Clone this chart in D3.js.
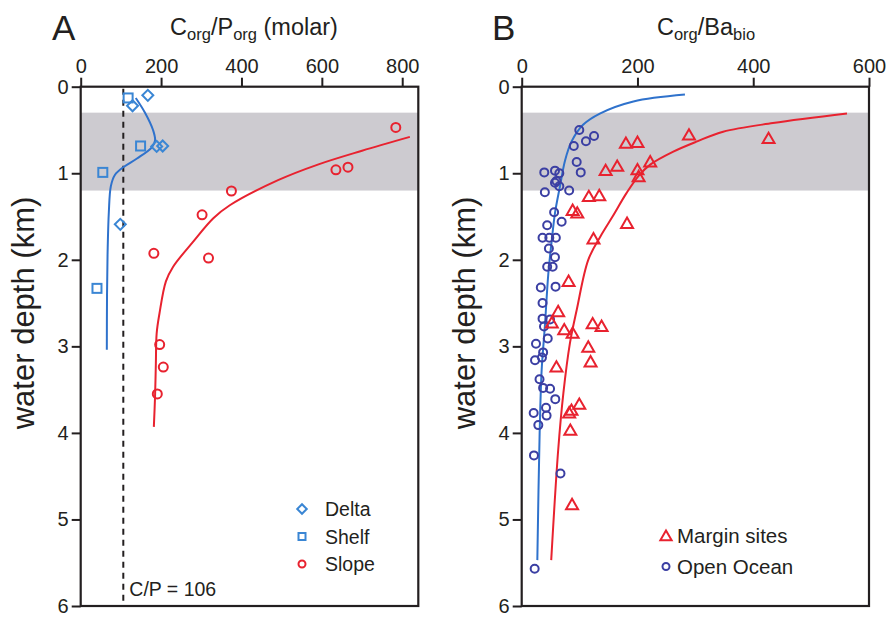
<!DOCTYPE html>
<html>
<head>
<meta charset="utf-8">
<script src="https://cdn.jsdelivr.net/npm/d3@7"></script>
<style>
  html, body { margin: 0; padding: 0; background: #fff; }
  svg text { font-family: "Liberation Sans", Arial, Helvetica, sans-serif; fill: #231f20; }
</style>
</head>
<body>
<svg id="chart" width="887" height="617"></svg>
<script>
// ---------- Panel A: C_org/P_org vs water depth ----------
const deltaPts = [[167, 0.10], [129, 0.22], [189, 0.69], [204, 0.685], [98.5, 1.59]];
const shelfPts = [[118, 0.13], [149, 0.685], [55, 0.99], [40.5, 2.33]];
const slopePts = [[784, 0.47], [665, 0.93], [635, 0.96], [375, 1.205], [302, 1.48],
                  [182, 1.925], [318, 1.98], [196.5, 2.98], [205.5, 3.24], [190.6, 3.55]];
const shelfFit = [[137, 0.13], [160, 0.30], [180, 0.50], [185, 0.62], [177, 0.70],
                  [140, 0.83], [106, 0.93], [85, 1.02], [75, 1.15], [70, 1.45],
                  [67, 1.9], [65.5, 2.4], [65, 3.04]];
const slopeFit = [[819, 0.58], [700, 0.74], [590, 0.90], [491, 1.08], [371, 1.37],
                  [330, 1.52], [280, 1.79], [230, 2.08], [212, 2.25], [196, 2.62],
                  [189, 2.85], [187, 3.2], [185, 3.58], [182, 3.93]];
const redfieldCP = 106;
const ticksA = [0, 200, 400, 600, 800];

// ---------- Panel B: C_org/Ba_bio vs water depth ----------
const marginPts = [[289, 0.56], [426.5, 0.60], [180, 0.655], [200, 0.645], [222, 0.87],
                   [165, 0.92], [145, 0.97], [200, 0.96], [202, 1.04], [116, 1.27],
                   [134, 1.26], [88, 1.43], [96, 1.46], [182, 1.58], [124, 1.76],
                   [81, 2.25], [63, 2.6], [52, 2.73], [73.5, 2.81], [88, 2.85],
                   [122.6, 2.74], [138, 2.77], [115, 3.01], [119, 3.18], [60, 3.24],
                   [99.5, 3.67], [86, 3.74], [82, 3.77], [84, 3.97], [87, 4.83]];
const oceanPts = [[99.5, 0.50], [125, 0.57], [111, 0.63], [90, 0.685], [95, 0.87],
                  [102, 0.99], [39, 0.99], [57.5, 0.97], [65, 1.0], [60, 1.09],
                  [57.5, 1.11], [65, 1.15], [40, 1.22], [82, 1.2], [56, 1.45],
                  [69, 1.56], [44, 1.6], [36, 1.745], [47.7, 1.745], [59, 1.745],
                  [47, 1.87], [57.5, 1.97], [44, 2.08], [53.5, 2.08], [33, 2.32],
                  [58.5, 2.31], [36, 2.50], [36, 2.68], [49, 2.69], [38.5, 2.77],
                  [45, 2.91], [24.7, 2.97], [37, 3.07], [23, 3.16], [35, 3.13],
                  [30.8, 3.38], [37, 3.48], [49, 3.49], [58, 3.61], [42, 3.71],
                  [43, 3.80], [20.7, 3.77], [28.7, 3.91], [21.2, 4.26], [67, 4.47],
                  [22.4, 5.57]];
const oceanFit = [[282, 0.09], [193, 0.17], [135, 0.31], [106, 0.44], [86, 0.635],
                  [75, 0.85], [66, 1.155], [57.5, 1.46], [52, 1.77], [46, 2.16],
                  [40, 2.77], [34.5, 3.27], [31, 4.0], [27, 5.47]];
const marginFit = [[562, 0.31], [434, 0.42], [348, 0.52], [302, 0.635], [262, 0.75],
                   [222, 0.90], [202, 1.03], [181, 1.23], [157, 1.5], [136, 1.73],
                   [115, 2.0], [95, 2.58], [83.4, 2.96], [72, 3.54], [63, 4.2],
                   [51, 5.47]];
const ticksB = [0, 200, 400, 600];

const depthTicks = [0, 1, 2, 3, 4, 5, 6];
const productiveBand = [0.3, 1.2];

const COL = {
  axis: "#231f20",
  blue: "#3a86d4",
  blueLine: "#2f72cc",
  red: "#e8222f",
  navy: "#3b3fa3",
  band: "#cdcbd0"
};

const svg = d3.select("#chart");
const plotTop = 86.7, plotBottom = 606;

function panel(opts) {
  const x = d3.scaleLinear().domain(opts.xDomain).range([opts.left, opts.right]);
  const y = d3.scaleLinear().domain([0, 6]).range([plotTop, plotBottom]);
  const g = svg.append("g");

  // shaded depth interval
  g.append("rect")
    .attr("x", x(opts.xDomain[0])).attr("width", x(opts.xDomain[1]) - x(opts.xDomain[0]))
    .attr("y", y(productiveBand[0])).attr("height", y(productiveBand[1]) - y(productiveBand[0]))
    .attr("fill", COL.band);

  // top axis
  const xa = g.append("g").attr("transform", `translate(0,${plotTop})`)
    .call(d3.axisTop(x).tickValues(opts.ticks).tickSize(9).tickPadding(5).tickFormat(d3.format("d")));
  xa.select(".domain").remove();
  xa.selectAll("line").attr("stroke", COL.axis).attr("stroke-width", 2);
  xa.selectAll("text").attr("font-size", 20).attr("fill", COL.axis).style("font-family", "Liberation Sans, Arial, sans-serif");

  // left axis
  const ya = g.append("g").attr("transform", `translate(${opts.left},0)`)
    .call(d3.axisLeft(y).tickValues(depthTicks).tickSize(9).tickPadding(3).tickFormat(d3.format("d")));
  ya.select(".domain").remove();
  ya.selectAll("line").attr("stroke", COL.axis).attr("stroke-width", 2);
  ya.selectAll("text").attr("font-size", 20).attr("fill", COL.axis).style("font-family", "Liberation Sans, Arial, sans-serif");

  // frame
  g.append("rect")
    .attr("x", opts.left).attr("y", plotTop)
    .attr("width", opts.right - opts.left).attr("height", plotBottom - plotTop)
    .attr("fill", "none").attr("stroke", COL.axis).attr("stroke-width", 2.2);

  // axis title
  g.append("text")
    .attr("transform", `translate(${opts.left - 47},313) rotate(-90)`)
    .attr("text-anchor", "middle").attr("font-size", 31)
    .text("water depth (km)");

  // panel letter
  g.append("text").attr("x", opts.letterX).attr("y", 40).attr("font-size", 35).text(opts.letter);

  return { g, x, y };
}

function subTitle(g, cx, parts) {
  const t = g.append("text").attr("x", cx).attr("y", 35).attr("text-anchor", "middle").attr("font-size", 23.5);
  parts.forEach(p => {
    const s = t.append("tspan").text(p.t);
    if (p.sub) s.attr("font-size", 16.5).attr("dy", 5);
    else if (p.back) s.attr("dy", -5);
  });
}

const line = (x, y) => d3.line().x(d => x(d[0])).y(d => y(d[1])).curve(d3.curveCatmullRom.alpha(0.5));

// ---- Panel A ----
const A = panel({ xDomain: [0, 840], left: 80.7, right: 418.3, ticks: ticksA, letter: "A", letterX: 52 });
subTitle(A.g, 254, [{ t: "C" }, { t: "org", sub: true }, { t: "/P", back: true }, { t: "org", sub: true }, { t: " (molar)", back: true }]);

A.g.append("line")
  .attr("x1", A.x(redfieldCP)).attr("x2", A.x(redfieldCP))
  .attr("y1", plotTop + 2).attr("y2", plotBottom)
  .attr("stroke", COL.axis).attr("stroke-width", 2).attr("stroke-dasharray", "6,5");
A.g.append("text").attr("x", A.x(redfieldCP) + 6).attr("y", 596).attr("font-size", 19.5).text("C/P = " + redfieldCP);

A.g.append("path").datum(shelfFit).attr("d", line(A.x, A.y))
  .attr("fill", "none").attr("stroke", COL.blueLine).attr("stroke-width", 2);
A.g.append("path").datum(slopeFit).attr("d", line(A.x, A.y))
  .attr("fill", "none").attr("stroke", COL.red).attr("stroke-width", 2);

const diamond = d3.symbol().type(d3.symbolSquare).size(60);
function drawDiamonds(g, pts, x, y) {
  g.selectAll(null).data(pts).enter().append("path")
    .attr("d", diamond)
    .attr("transform", d => `translate(${x(d[0])},${y(d[1])}) rotate(45)`)
    .attr("fill", "none").attr("stroke", COL.blue).attr("stroke-width", 2);
}
function drawSquares(g, pts, x, y) {
  g.selectAll(null).data(pts).enter().append("rect")
    .attr("x", d => x(d[0]) - 4.5).attr("y", d => y(d[1]) - 4.5)
    .attr("width", 9).attr("height", 9)
    .attr("fill", "none").attr("stroke", COL.blue).attr("stroke-width", 2);
}
function drawCircles(g, pts, x, y, r, col) {
  g.selectAll(null).data(pts).enter().append("circle")
    .attr("cx", d => x(d[0])).attr("cy", d => y(d[1])).attr("r", r)
    .attr("fill", "none").attr("stroke", col).attr("stroke-width", 2);
}
const tri = d3.symbol().type(d3.symbolTriangle).size(62);
function drawTriangles(g, pts, x, y) {
  g.selectAll(null).data(pts).enter().append("path")
    .attr("d", tri)
    .attr("transform", d => `translate(${x(d[0])},${y(d[1]) + 1})`)
    .attr("fill", "none").attr("stroke", COL.red).attr("stroke-width", 2);
}

drawDiamonds(A.g, deltaPts, A.x, A.y);
drawSquares(A.g, shelfPts, A.x, A.y);
drawCircles(A.g, slopePts, A.x, A.y, 4.5, COL.red);

// legend A
const legA = [
  { label: "Delta", kind: "diamond" },
  { label: "Shelf", kind: "square" },
  { label: "Slope", kind: "circle" }
];
legA.forEach((d, i) => {
  const cy = 509 + i * 27.5, cx = 302;
  if (d.kind === "diamond") {
    A.g.append("path").attr("d", d3.symbol().type(d3.symbolSquare).size(45))
      .attr("transform", `translate(${cx},${cy}) rotate(45)`)
      .attr("fill", "none").attr("stroke", COL.blue).attr("stroke-width", 2);
  } else if (d.kind === "square") {
    A.g.append("rect").attr("x", cx - 3.5).attr("y", cy - 3.5).attr("width", 7).attr("height", 7)
      .attr("fill", "none").attr("stroke", COL.blue).attr("stroke-width", 2);
  } else {
    A.g.append("circle").attr("cx", cx).attr("cy", cy).attr("r", 3.5)
      .attr("fill", "none").attr("stroke", COL.red).attr("stroke-width", 2);
  }
  A.g.append("text").attr("x", 325).attr("y", cy + 7).attr("font-size", 19.5).text(d.label);
});

// ---- Panel B ----
const B = panel({ xDomain: [0, 600], left: 521.7, right: 869, ticks: ticksB, letter: "B", letterX: 492 });
subTitle(B.g, 706, [{ t: "C" }, { t: "org", sub: true }, { t: "/Ba", back: true }, { t: "bio", sub: true }]);

B.g.append("path").datum(oceanFit).attr("d", line(B.x, B.y))
  .attr("fill", "none").attr("stroke", COL.blueLine).attr("stroke-width", 2);
B.g.append("path").datum(marginFit).attr("d", line(B.x, B.y))
  .attr("fill", "none").attr("stroke", COL.red).attr("stroke-width", 2);

drawCircles(B.g, oceanPts, B.x, B.y, 4, COL.navy);
drawTriangles(B.g, marginPts, B.x, B.y);

// legend B
const legB = [
  { label: "Margin sites", kind: "triangle" },
  { label: "Open Ocean", kind: "circle" }
];
legB.forEach((d, i) => {
  const cy = 536 + i * 30.5, cx = 666;
  if (d.kind === "triangle") {
    B.g.append("path").attr("d", d3.symbol().type(d3.symbolTriangle).size(55))
      .attr("transform", `translate(${cx},${cy + 1})`)
      .attr("fill", "none").attr("stroke", COL.red).attr("stroke-width", 2);
  } else {
    B.g.append("circle").attr("cx", cx).attr("cy", cy).attr("r", 3.5)
      .attr("fill", "none").attr("stroke", COL.navy).attr("stroke-width", 2);
  }
  B.g.append("text").attr("x", 677).attr("y", cy + 7).attr("font-size", 20.5).text(d.label);
});
</script>
</body>
</html>
